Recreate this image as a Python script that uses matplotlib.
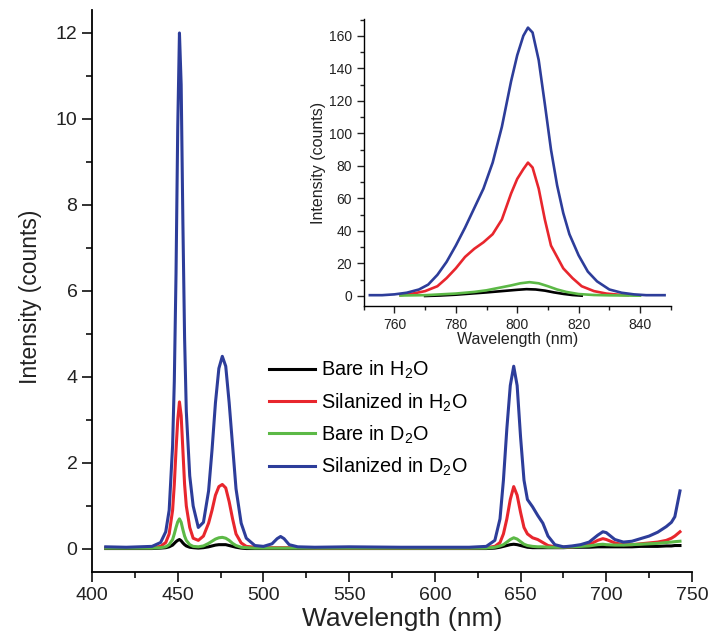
import matplotlib
matplotlib.use("Agg")
import matplotlib.pyplot as plt
from matplotlib.ticker import MultipleLocator

plt.rcParams['font.family'] = ['Liberation Sans', 'DejaVu Sans']
plt.rcParams['mathtext.fontset'] = 'custom'
plt.rcParams['mathtext.rm'] = 'Liberation Sans'

# main spectrum (nm, counts)
wl = [408, 420, 435, 440, 443, 445, 447, 448, 449, 450,
      451, 452, 453, 454, 455, 457, 459, 462, 465, 468,
      470, 472, 474, 476, 478, 480, 482, 484, 487, 490,
      495, 500, 505, 508, 510, 512, 515, 520, 530, 550,
      580, 600, 620, 630, 635, 638, 640, 642, 644, 646,
      648, 650, 652, 654, 657, 660, 663, 666, 670, 675,
      680, 685, 690, 695, 698, 700, 705, 710, 715, 720,
      725, 730, 735, 738, 740, 743]

bare_h2o = [0.01, 0.01, 0.01, 0.02, 0.03, 0.05, 0.09, 0.13, 0.17, 0.20,
            0.22, 0.19, 0.14, 0.10, 0.07, 0.04, 0.03, 0.02, 0.03, 0.05,
            0.07, 0.09, 0.10, 0.10, 0.10, 0.08, 0.06, 0.04, 0.02, 0.01,
            0.01, 0.01, 0.01, 0.01, 0.01, 0.01, 0.01, 0.01, 0.01, 0.01,
            0.01, 0.01, 0.01, 0.01, 0.02, 0.04, 0.06, 0.08, 0.10, 0.11,
            0.10, 0.08, 0.06, 0.04, 0.03, 0.03, 0.03, 0.03, 0.03, 0.03,
            0.04, 0.04, 0.04, 0.05, 0.05, 0.05, 0.05, 0.05, 0.05, 0.06,
            0.06, 0.06, 0.07, 0.07, 0.08, 0.08]

sil_h2o = [0.03, 0.03, 0.03, 0.06, 0.15, 0.35, 0.9, 1.5, 2.3, 3.0,
           3.42, 3.1, 2.3, 1.5, 1.0, 0.5, 0.25, 0.2, 0.3, 0.6,
           0.9, 1.25, 1.45, 1.5, 1.42, 1.1, 0.7, 0.35, 0.14, 0.06,
           0.04, 0.03, 0.03, 0.03, 0.03, 0.03, 0.03, 0.03, 0.02, 0.02,
           0.02, 0.02, 0.02, 0.03, 0.06, 0.15, 0.35, 0.7, 1.15, 1.45,
           1.25, 0.85, 0.5, 0.35, 0.26, 0.22, 0.15, 0.08, 0.05, 0.04,
           0.05, 0.07, 0.10, 0.20, 0.24, 0.22, 0.14, 0.10, 0.10, 0.12,
           0.14, 0.16, 0.20, 0.25, 0.30, 0.40]

bare_d2o = [0.02, 0.02, 0.02, 0.03, 0.05, 0.10, 0.22, 0.35, 0.50, 0.63,
            0.70, 0.62, 0.45, 0.30, 0.20, 0.10, 0.06, 0.05, 0.07, 0.13,
            0.18, 0.23, 0.26, 0.27, 0.25, 0.20, 0.13, 0.08, 0.04, 0.03,
            0.02, 0.02, 0.02, 0.02, 0.02, 0.02, 0.02, 0.02, 0.02, 0.02,
            0.02, 0.02, 0.02, 0.02, 0.04, 0.07, 0.10, 0.16, 0.22, 0.26,
            0.23, 0.17, 0.11, 0.08, 0.06, 0.05, 0.05, 0.04, 0.04, 0.04,
            0.05, 0.06, 0.07, 0.10, 0.11, 0.10, 0.09, 0.09, 0.10, 0.11,
            0.12, 0.13, 0.15, 0.16, 0.17, 0.18]

sil_d2o = [0.05, 0.04, 0.06, 0.15, 0.4, 0.9, 2.4, 3.9, 6.4, 9.8,
           12.0, 10.8, 7.6, 4.9, 3.2, 1.7, 1.0, 0.5, 0.62, 1.35,
           2.3, 3.4, 4.2, 4.48, 4.25, 3.4, 2.4, 1.4, 0.6, 0.25,
           0.08, 0.06, 0.12, 0.24, 0.29, 0.24, 0.10, 0.05, 0.04, 0.05,
           0.04, 0.04, 0.04, 0.06, 0.2, 0.7, 1.6, 2.8, 3.8, 4.25,
           3.8, 2.6, 1.6, 1.15, 0.98, 0.78, 0.6, 0.3, 0.10, 0.05,
           0.07, 0.10, 0.16, 0.32, 0.40, 0.38, 0.22, 0.16, 0.18, 0.24,
           0.30, 0.39, 0.52, 0.62, 0.75, 1.35]

# inset (NIR emission)
in_bare_h2o_x = [770, 775, 780, 785, 790, 795, 800, 803, 806, 809, 812, 815, 818, 821]
in_bare_h2o = [0, 0.3, 0.8, 1.5, 2.2, 3, 3.8, 4.2, 4, 3.3, 2.2, 1.3, 0.6, 0.2]

in_sil_h2o_x = [762, 766, 770, 774, 777, 780, 783, 786, 789, 792, 795, 798, 800, 802,
                803.5, 805, 807, 809, 811, 813, 815, 818, 821, 825, 829, 833, 836]
in_sil_h2o = [0.5, 1.5, 3, 6, 11, 17, 24, 29, 33, 38, 47, 63, 72, 78,
              82, 79, 66, 47, 31, 24, 17, 11, 6, 3, 1.5, 0.8, 0.5]

in_bare_d2o_x = [762, 770, 780, 786, 790, 794, 798, 801, 804, 807, 810, 813, 816, 820, 825, 830, 835, 840]
in_bare_d2o = [0.3, 0.5, 1.5, 2.5, 3.5, 5, 6.5, 7.8, 8.5, 7.8, 6, 4, 2.5, 1.2, 0.6, 0.4, 0.3, 0.2]

in_sil_d2o_x = [752, 756, 760, 764, 768, 771, 774, 777, 780, 783, 786, 789, 792, 795, 798, 800, 802,
                803.5, 805, 807, 809, 811, 813, 815, 817, 820, 823, 826, 830, 834, 838, 842, 848]
in_sil_d2o = [0.5, 0.5, 1, 2, 4, 7, 13, 21, 31, 42, 54, 66, 82, 104, 132, 148, 160,
              165, 162, 145, 118, 90, 68, 51, 38, 25, 15, 9, 4, 2, 1, 0.5, 0.5]

labels = ['Bare in H$_2$O', 'Silanized in H$_2$O', 'Bare in D$_2$O', 'Silanized in D$_2$O']
colors = ['#000000', '#e8262d', '#5cb946', '#2d3d9a']

fig = plt.figure(figsize=(7.09, 6.39), dpi=100)
ax = fig.add_axes([0.1298, 0.1049, 0.8462, 0.8795])

for y, c, lab in zip([bare_h2o, sil_h2o, bare_d2o, sil_d2o], colors, labels):
    ax.plot(wl, y, color=c, lw=2.2, label=lab)

ax.set_xlim(400, 750)
ax.set_ylim(-0.535, 12.535)
ax.xaxis.set_major_locator(MultipleLocator(50))
ax.xaxis.set_minor_locator(MultipleLocator(25))
ax.yaxis.set_major_locator(MultipleLocator(2))
ax.yaxis.set_minor_locator(MultipleLocator(1))
for s in ['top', 'right']:
    ax.spines[s].set_visible(False)
for s in ['left', 'bottom']:
    ax.spines[s].set_linewidth(1.3)
ax.tick_params(which='major', direction='out', length=7, width=1.3, labelsize=14, colors='#222222')
ax.tick_params(which='minor', direction='out', length=4, width=1.3, colors='#222222')
ax.set_xlabel('Wavelength (nm)', fontsize=19, color='#222222')
ax.xaxis.set_label_coords(0.517, -0.063)
ax.set_ylabel('Intensity (counts)', fontsize=16.5, color='#222222')
ax.yaxis.set_label_coords(-0.083, 0.49)

ax.legend(loc='upper left', bbox_to_anchor=(0.295, 0.379), frameon=False, fontsize=14.3,
          handlelength=2.3, handletextpad=0.3, labelspacing=0.5, borderpad=0, borderaxespad=0)

# inset
ins = fig.add_axes([0.513, 0.5205, 0.433, 0.4505])
ins.plot(in_bare_h2o_x, in_bare_h2o, color=colors[0], lw=1.9)
ins.plot(in_sil_h2o_x, in_sil_h2o, color=colors[1], lw=1.9)
ins.plot(in_bare_d2o_x, in_bare_d2o, color=colors[2], lw=1.9)
ins.plot(in_sil_d2o_x, in_sil_d2o, color=colors[3], lw=1.9)
ins.set_xlim(750, 850)
ins.set_ylim(-6.4, 170.6)
ins.xaxis.set_major_locator(MultipleLocator(20))
ins.xaxis.set_minor_locator(MultipleLocator(10))
ins.yaxis.set_major_locator(MultipleLocator(20))
ins.yaxis.set_minor_locator(MultipleLocator(10))
for s in ['top', 'right']:
    ins.spines[s].set_visible(False)
for s in ['left', 'bottom']:
    ins.spines[s].set_linewidth(1.0)
ins.tick_params(which='major', direction='out', length=5, width=1.0, labelsize=10, colors='#222222')
ins.tick_params(which='minor', direction='out', length=3, width=1.0, colors='#222222')
ins.set_xlabel('Wavelength (nm)', fontsize=11.5, color='#222222', labelpad=0)
ins.set_ylabel('Intensity (counts)', fontsize=11.5, color='#222222', labelpad=2)

fig.savefig('out.png', dpi=100)
